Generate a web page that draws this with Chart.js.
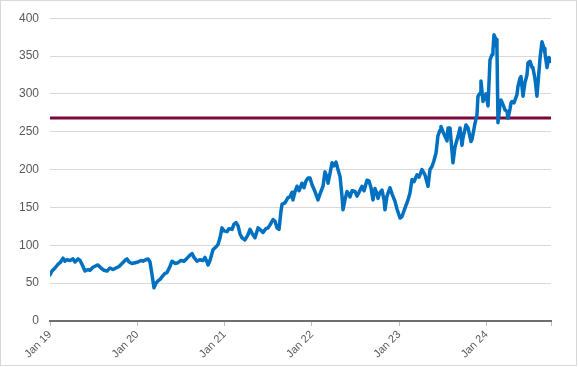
<!DOCTYPE html>
<html>
<head>
<meta charset="utf-8">
<script src="https://cdn.jsdelivr.net/npm/chart.js@4/dist/chart.umd.min.js"></script>
<style>
  html, body { margin: 0; padding: 0; background: #fff; }
  canvas { display: block; }
</style>
</head>
<body>
<canvas id="price-chart" width="578" height="367"></canvas>
<script>
// months since Jan 2019
const monthsSinceJan19 = [
  0, 0.28, 0.69, 1.10, 1.38, 1.79, 2.06, 2.34, 2.75, 3.16, 3.44, 3.85, 4.13, 4.40, 4.81, 5.23, 5.50, 5.91, 6.33, 6.60,
  7.01, 7.43, 7.84, 8.25, 8.66, 9.08, 9.49, 9.90, 10.31, 10.59, 10.86, 11.28, 11.69, 12.10, 12.51, 12.79, 13.20, 13.48, 13.75, 14.03,
  14.30, 14.58, 14.85, 15.13, 15.54, 15.81, 16.09, 16.50, 16.78, 17.19, 17.60, 18.01, 18.43, 18.84, 19.25, 19.53, 19.80, 20.21, 20.63, 21.04,
  21.31, 21.59, 21.73, 22.00, 22.41, 22.83, 23.10, 23.38, 23.65, 23.93, 24.34, 24.61, 25.03, 25.30, 25.58, 25.85, 26.13, 26.40, 26.81, 27.23,
  27.50, 27.78, 28.19, 28.60, 28.88, 29.29, 29.70, 29.98, 30.25, 30.66, 30.94, 31.21, 31.49, 31.76, 31.90, 32.31, 32.73, 33.00, 33.28, 33.41,
  33.69, 33.96, 34.24, 34.65, 34.93, 35.20, 35.48, 35.75, 36.03, 36.44, 36.85, 37.13, 37.54, 37.81, 38.09, 38.23, 38.50, 38.78, 39.05, 39.33,
  39.60, 39.88, 40.15, 40.29, 40.56, 40.84, 41.11, 41.25, 41.53, 41.94, 42.21, 42.49, 42.90, 43.18, 43.59, 43.86, 44.14, 44.41, 44.69, 44.96,
  45.10, 45.38, 45.65, 45.93, 46.06, 46.34, 46.75, 47.03, 47.44, 47.71, 48.13, 48.40, 48.81, 49.23, 49.50, 49.78, 50.05, 50.46, 50.74, 51.15,
  51.56, 51.98, 52.25, 52.53, 52.80, 53.08, 53.35, 53.63, 53.76, 54.04, 54.31, 54.59, 54.73, 55.00, 55.28, 55.41, 55.69, 56.10, 56.38, 56.65,
  56.79, 57.20, 57.48, 57.89, 58.03, 58.44, 58.71, 58.85, 59.13, 59.26, 59.54, 59.81, 59.95, 60.23, 60.50, 60.78, 60.91, 61.05, 61.33, 61.46,
  61.60, 61.88, 62.01, 62.29, 62.56, 62.84, 62.98, 63.25, 63.39, 63.53, 63.80, 64.21, 64.35, 64.63, 64.76, 65.04, 65.31, 65.59, 65.73, 66.00,
  66.28, 66.41, 66.69, 66.96, 67.24, 67.38, 67.65, 67.93, 68.06, 68.34, 68.61, 68.89
];

const closePrice = [
  61, 66, 70, 75, 77, 83, 79, 81, 80, 82, 78, 82, 80, 75, 66, 68, 67, 71, 73, 74,
  70, 67, 66, 70, 68, 70, 72, 76, 80, 82, 78, 76, 77, 78, 80, 79, 81, 82, 78, 61,
  44, 50, 53, 55, 60, 63, 64, 72, 79, 76, 77, 80, 79, 83, 87, 89, 84, 79, 81, 80,
  84, 78, 74, 80, 94, 98, 101, 110, 123, 119, 118, 122, 121, 128, 130, 126, 115, 110, 107, 114,
  121, 116, 110, 123, 121, 117, 122, 123, 127, 134, 132, 123, 121, 145, 154, 156, 163, 164, 170, 160,
  171, 178, 172, 182, 176, 185, 189, 189, 180, 171, 160, 168, 178, 197, 190, 182, 195, 209, 205, 210,
  200, 191, 165, 147, 160, 171, 168, 164, 172, 171, 165, 170, 178, 172, 186, 185, 176, 160, 175, 168,
  162, 170, 173, 160, 147, 165, 176, 168, 158, 148, 136, 138, 149, 160, 169, 187, 184, 193, 190, 200,
  193, 178, 200, 204, 212, 222, 245, 252, 257, 250, 244, 238, 255, 255, 224, 209, 230, 244, 255, 232,
  242, 259, 255, 237, 240, 261, 272, 297, 301, 317, 290, 297, 300, 284, 345, 352, 358, 378, 372, 360,
  262, 286, 292, 286, 279, 277, 268, 280, 288, 290, 288, 299, 310, 321, 323, 297, 315, 325, 341, 343,
  335, 334, 320, 297, 330, 347, 369, 360, 354, 335, 348, 343
];

const thresholdLevel = 268;

const yearTickMonths = [0, 12, 24, 36, 48, 60];
const yearTickLabels = ['Jan 19', 'Jan 20', 'Jan 21', 'Jan 22', 'Jan 23', 'Jan 24'];

const yMin = 0;
const yMax = 400;
const yStep = 50;

const lastMonth = monthsSinceJan19[monthsSinceJan19.length - 1];

const pricePoints = monthsSinceJan19.map((m, i) => ({x: m, y: closePrice[i]}));
const thresholdPoints = [{x: 0, y: thresholdLevel}, {x: lastMonth, y: thresholdLevel}];

// white background and thin frame round the whole chart
const frame = {
  id: 'frame',
  beforeDraw(chart) {
    const ctx = chart.ctx;
    ctx.save();
    ctx.fillStyle = '#ffffff';
    ctx.fillRect(0, 0, chart.width, chart.height);
    ctx.strokeStyle = '#d9d9d9';
    ctx.lineWidth = 1;
    ctx.strokeRect(0.5, 0.5, chart.width - 2, chart.height - 2);
    ctx.restore();
  }
};

Chart.defaults.font.family = "'Liberation Sans', Arial, sans-serif";
Chart.defaults.font.size = 12;
Chart.defaults.color = '#595959';

new Chart(document.getElementById('price-chart'), {
  type: 'line',
  data: {
    datasets: [
      {
        data: pricePoints,
        borderColor: '#0070c0',
        borderWidth: 3.5,
        borderJoinStyle: 'round',
        borderCapStyle: 'round',
        pointRadius: 0,
        tension: 0,
        order: 1
      },
      {
        data: thresholdPoints,
        borderColor: '#7a0a3a',
        borderWidth: 3,
        pointRadius: 0,
        order: 2
      }
    ]
  },
  options: {
    responsive: false,
    animation: false,
    events: [],
    layout: {padding: {left: 0, right: 27, top: 11, bottom: 0}},
    plugins: {
      legend: {display: false},
      tooltip: {enabled: false}
    },
    scales: {
      x: {
        type: 'linear',
        min: 0,
        max: lastMonth,
        afterBuildTicks(scale) {
          scale.ticks = yearTickMonths.concat([lastMonth]).map(v => ({value: v}));
        },
        afterFit(scale) {
          scale.height = 46;
        },
        grid: {
          drawOnChartArea: false,
          drawTicks: true,
          tickLength: 5,
          color: '#bfbfbf'
        },
        border: {display: true, color: '#6e6e6e', width: 2},
        ticks: {
          autoSkip: false,
          maxRotation: 45,
          minRotation: 45,
          padding: 2,
          font: {size: 11},
          callback(value) {
            const i = yearTickMonths.indexOf(value);
            return i >= 0 ? yearTickLabels[i] : '';
          }
        }
      },
      y: {
        min: yMin,
        max: yMax,
        afterFit(scale) {
          scale.width = 50;
        },
        grid: {
          color: '#d9d9d9',
          drawTicks: false
        },
        border: {display: false},
        ticks: {
          stepSize: yStep,
          padding: 11,
          font: {size: 12}
        }
      }
    }
  },
  plugins: [frame]
});
</script>
</body>
</html>
